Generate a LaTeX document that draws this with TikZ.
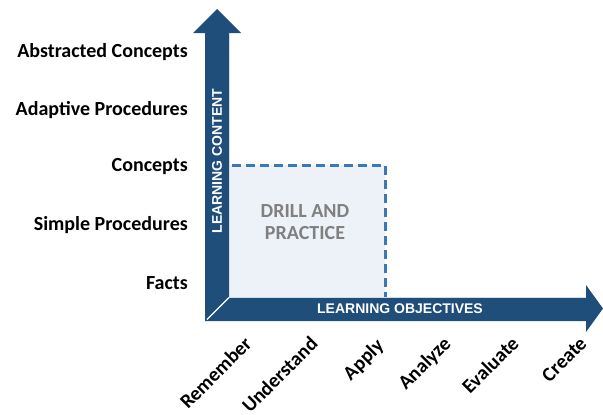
\documentclass[tikz,border=0pt]{standalone}
\usepackage{fontspec}
\setmainfont{Carlito}
\newfontfamily\arialfont{Liberation Sans}
\definecolor{barblue}{HTML}{1F4E7A}
\definecolor{dashblue}{HTML}{3A78B8}
\definecolor{boxfill}{HTML}{EDF2F9}
\definecolor{drillgray}{HTML}{808080}
\tikzset{
  rowlabel/.style={anchor=east, font=\bfseries\fontsize{20}{22}\selectfont, text=black, inner sep=0pt},
  collabel/.style={anchor=base east, rotate=45, font=\bfseries\fontsize{20}{22}\selectfont, text=black, inner sep=0pt},
  axislabel/.style={font=\arialfont\bfseries\fontsize{14}{16}\selectfont, text=white, inner sep=0pt},
  drilltext/.style={font=\bfseries\fontsize{20}{22}\selectfont, text=drillgray, align=center, inner sep=0pt},
}
\begin{document}
\begin{tikzpicture}[x=1pt,y=-1pt]
\useasboundingbox (0,0) rectangle (603,415);
% drill region
\fill[boxfill] (229,165) rectangle (385,297);
\draw[dashblue, line width=3pt, dash pattern=on 9pt off 5pt] (232,165) -- (385,165) -- (385,297);
% axes
\fill[barblue] (205,321) -- (205,33) -- (193,33) -- (217,9) -- (241,33) -- (229,33)
  -- (229,297) -- (586,297) -- (586,285) -- (603,308.5) -- (586,332) -- (586,321) -- cycle;
\draw[white, line width=1.2pt] (207,319.5) -- (229,297.5);
\draw[white!80!barblue, line width=0.6pt] (229.3,33) -- (229.3,297.3) -- (586,297.3);
% axis labels
\node[axislabel, rotate=90] (content) at (217,161) {LEARNING CONTENT};
\node[axislabel] (objectives) at (400,309) {LEARNING OBJECTIVES};
\node[drilltext] (drill) at (305,222) {DRILL AND\\PRACTICE};
% row labels
\node[rowlabel] (r5) at (188,52) {Abstracted Concepts};
\node[rowlabel] (r4) at (188,110) {Adaptive Procedures};
\node[rowlabel] (r3) at (188,167) {Concepts};
\node[rowlabel] (r2) at (188,225) {Simple Procedures};
\node[rowlabel] (r1) at (188,283) {Facts};
% column labels
\node[collabel] (c1) at (253,345) {Remember};
\node[collabel] (c2) at (319,345) {Understand};
\node[collabel] (c3) at (385,347) {Apply};
\node[collabel] (c4) at (452,345) {Analyze};
\node[collabel] (c5) at (520,345) {Evaluate};
\node[collabel] (c6) at (588,345) {Create};
\end{tikzpicture}
\end{document}
